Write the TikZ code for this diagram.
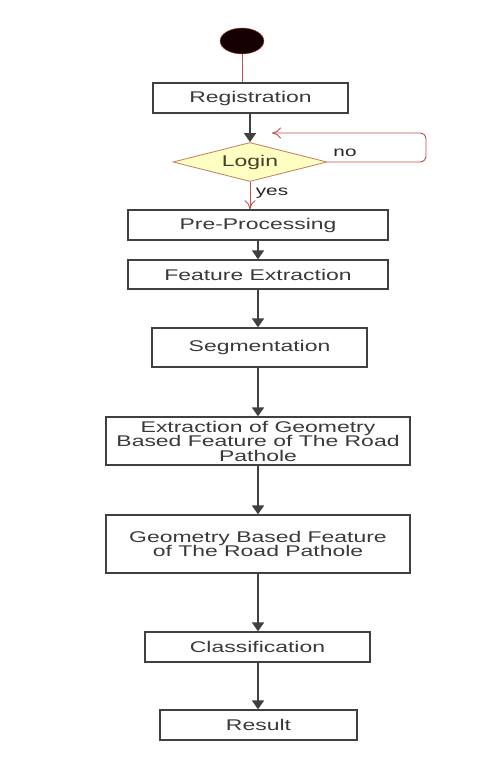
\documentclass[tikz,border=0pt]{standalone}
\usepackage{fontspec}
\setmainfont{Liberation Sans}[FakeStretch=1.48]
\usepackage{xcolor}
\usetikzlibrary{shapes,arrows,positioning,calc,arrows.meta}
\definecolor{boxline}{HTML}{404040}
\definecolor{txtgray}{HTML}{3A3A3A}
\definecolor{flowred}{HTML}{C0504D}
\definecolor{loginfill}{HTML}{FFFFC2}
\definecolor{loginline}{HTML}{C8876A}

\begin{document}
\begin{tikzpicture}[x=1pt, y=-1pt,
    block/.style={draw=boxline, line width=1.3pt, fill=white, inner sep=0pt,
        text=txtgray, align=center, font=\fontsize{15.5}{14.5}\selectfont},
    flow/.style={draw=boxline, line width=1.8pt, -{Triangle[width=12pt,length=9pt]}},
    redflow/.style={draw=flowred, line width=0.9pt},
    lbl/.style={font=\fontsize{14}{14}\selectfont, text=black!85}]
    \useasboundingbox (0,0) rectangle (490,759);

    \node [ellipse, draw=flowred, fill=black!92!red, minimum width=44pt, minimum height=26pt] (start) at (242,41) {};
    \node [block, minimum width=195pt, minimum height=30pt] (reg) at (250.5,98) {Registration};
    \node [diamond, draw=loginline, fill=loginfill, line width=0.9pt, inner sep=0pt, aspect=4,
        minimum width=154pt, minimum height=39pt, text=black!70!olive, font=\fontsize{15.5}{15.5}\selectfont] (login) at (250,162) {Login};
    \node [block, minimum width=260pt, minimum height=30pt] (pre) at (258,225) {Pre-Processing};
    \node [block, minimum width=260pt, minimum height=29pt] (feat) at (258,274.5) {Feature Extraction};
    \node [block, minimum width=215pt, minimum height=39pt] (seg) at (259.5,347.5) {Segmentation};
    \node [block, minimum width=304pt, minimum height=48pt] (extr) at (258,441) {Extraction of Geometry\\Based Feature of The Road\\Pathole};
    \node [block, minimum width=304pt, minimum height=58pt] (geom) at (258,544) {Geometry Based Feature\\of The Road Pathole};
    \node [block, minimum width=225pt, minimum height=30pt] (cls) at (257.5,647) {Classification};
    \node [block, minimum width=197pt, minimum height=30pt] (res) at (258.5,725) {Result};

    % start and login decision
    \draw [redflow] (start.south) -- (start.south |- reg.north);
    \draw [flow] (reg.south -| login.north) -- (login.north);
    \coordinate (back) at (272,133);
    \draw [redflow, rounded corners=6pt, -{To[length=9pt,width=11pt]}] (login.east) -- (426,162) -- (426,133) -- (back);
    \node [lbl] (no) at (345,153) {no};
    \draw [redflow, -{To[length=9pt,width=11pt]}] (login.south) -- (login.south |- pre.north);
    \node [lbl] (yes) at (272,193) {yes};

    % main chain
    \draw [flow] (pre.south) -- (feat.north);
    \draw [flow] (feat.south) -- (seg.north -| feat.south);
    \draw [flow] (seg.south -| extr.north) -- (extr.north);
    \draw [flow] (extr.south) -- (geom.north);
    \draw [flow] (geom.south) -- (cls.north -| geom.south);
    \draw [flow] (cls.south -| geom.south) -- (res.north -| geom.south);
\end{tikzpicture}
\end{document}
